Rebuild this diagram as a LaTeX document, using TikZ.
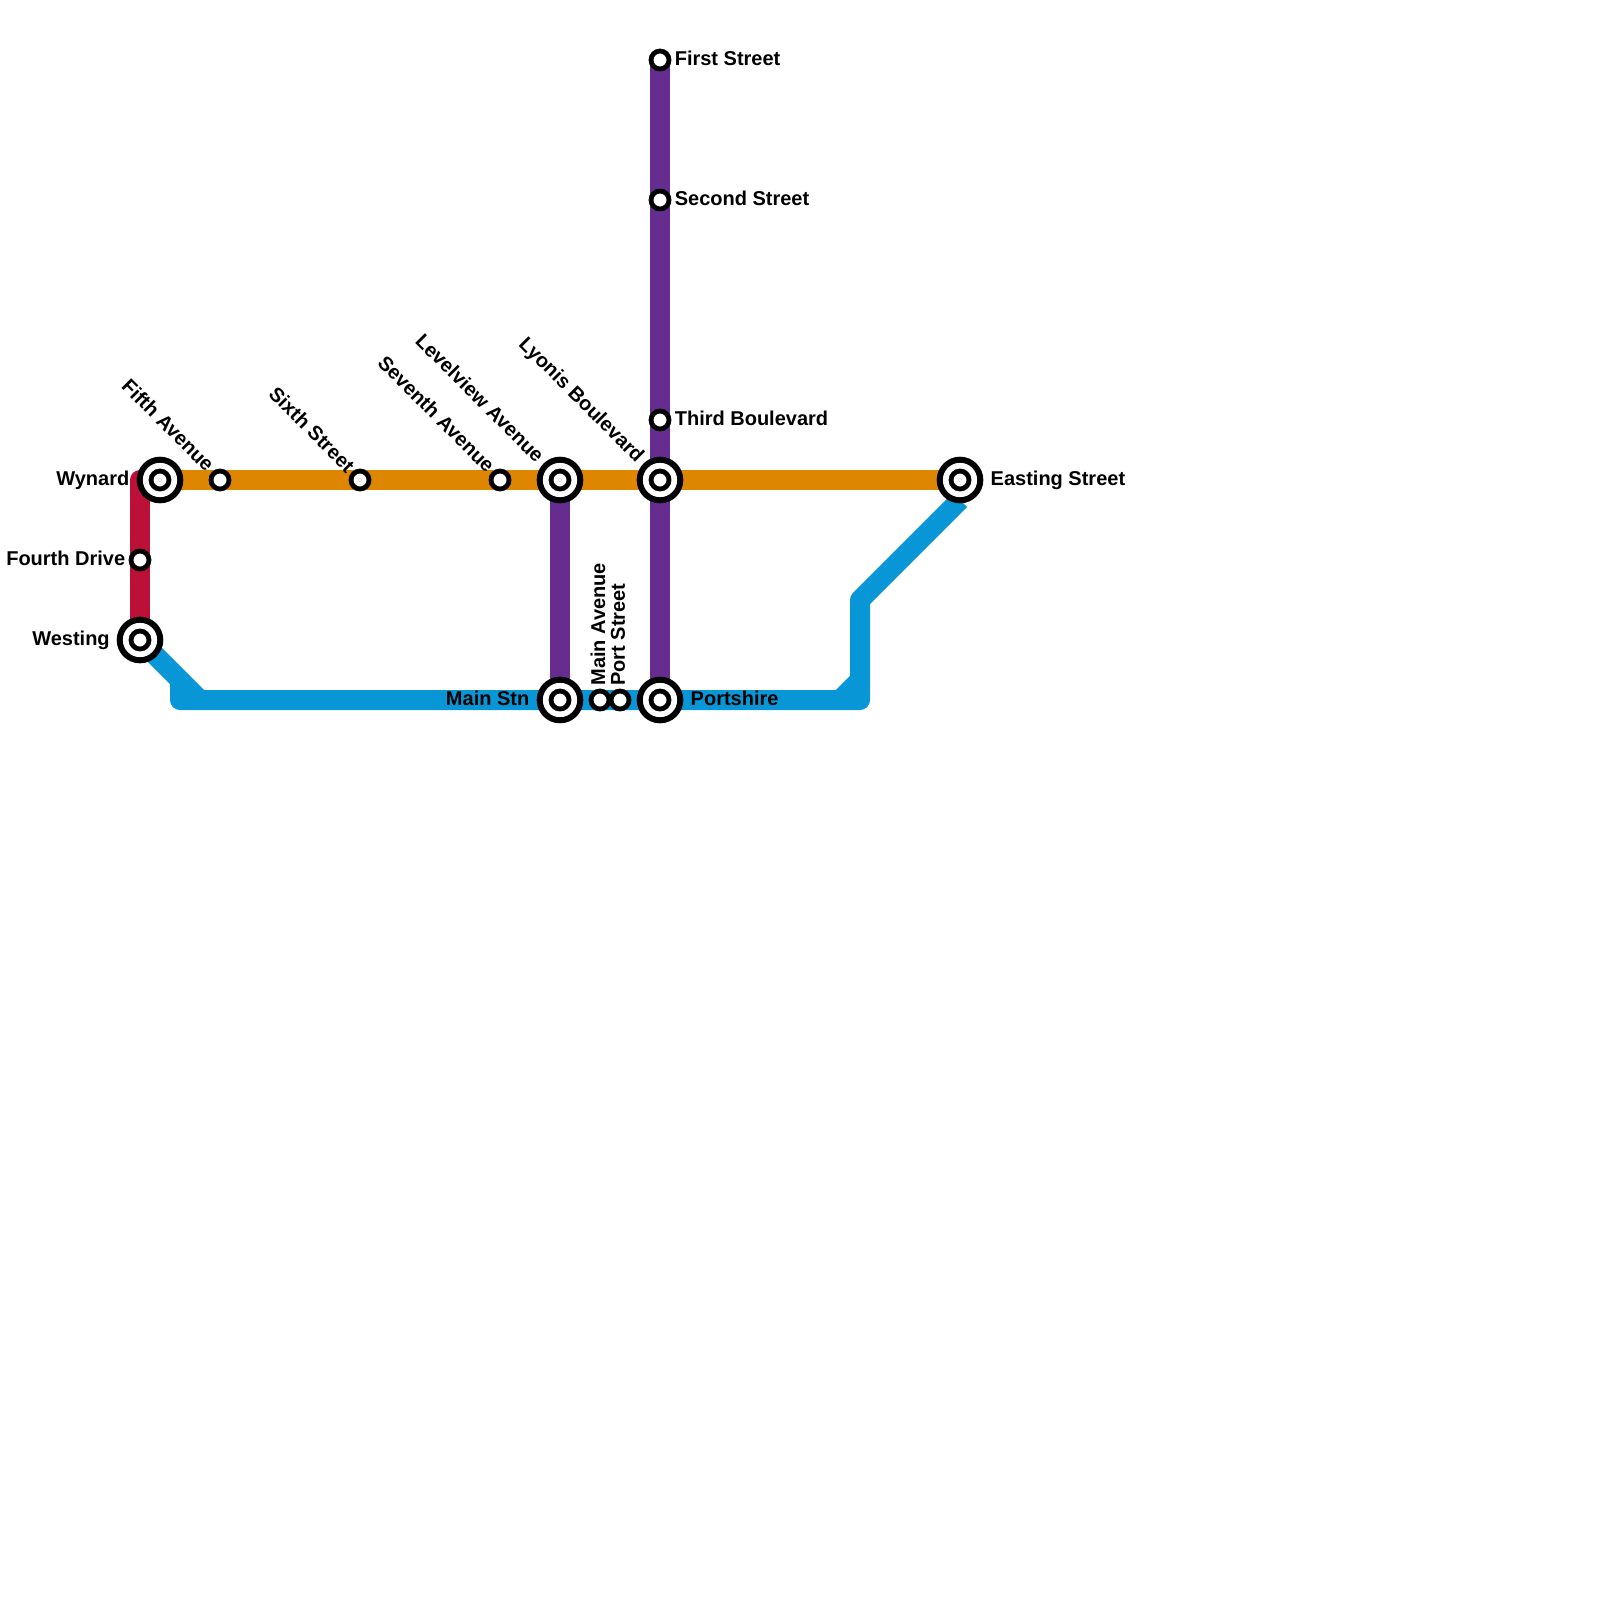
\documentclass[tikz,border=0pt]{standalone}
\usepackage{fontspec}
\setmainfont{Liberation Sans}
\usetikzlibrary{positioning}
\definecolor{redline}{HTML}{BD1038}
\definecolor{orangeline}{HTML}{DF8600}
\definecolor{purpleline}{HTML}{662C90}
\definecolor{blueline}{HTML}{0896D7}
\tikzset{
  stn/.style={circle,draw=black,fill=white,line width=2.4pt,minimum size=9pt,inner sep=0pt},
  hub/.style={circle,draw=black,fill=white,line width=3pt,minimum size=20.3pt,inner sep=0pt,
    path picture={\draw[line width=2.4pt] (path picture bounding box.center) circle (4.5pt);}},
  track/.style={line width=10pt,line join=round},
  stnlabel/.style={inner sep=0pt,font=\fontsize{10}{12}\bfseries\selectfont}
}
\begin{document}
\begin{tikzpicture}[x=0.5pt,y=-0.5pt]
\useasboundingbox (0,0) rectangle (1600,1600);
% bends
\coordinate (redbend) at (140,480);
\coordinate (bluea) at (180,680);
\coordinate (blueb) at (200,700);
\coordinate (bluec) at (180,700);
\coordinate (blued) at (860,700);
\coordinate (bluee) at (860,600);
\coordinate (bluef) at (960,500);
\coordinate (blueg) at (840,700);
\coordinate (blueh) at (860,680);
\coordinate (wynardc) at (160,480);
\coordinate (westingc) at (140,640);
\coordinate (levelc) at (560,480);
\coordinate (mainc) at (560,700);
\coordinate (firstc) at (660,60);
\coordinate (portc) at (660,700);
\coordinate (eastc) at (960,480);
% lines
\draw[track,blueline] (westingc) -- (blueb);
\draw[track,blueline] (bluea) -- (bluec) -- (blued) -- (bluee) -- (bluef);
\draw[track,blueline] (blueg) -- (blueh);
\draw[track,redline] (wynardc) -- (redbend) -- (westingc);
\draw[track,purpleline] (firstc) -- (portc);
\draw[track,purpleline] (levelc) -- (mainc);
\draw[track,orangeline] (wynardc) -- (eastc);
% stations
\node[hub] (wynard) at (wynardc) {};
\node[hub] (westing) at (westingc) {};
\node[hub] (level) at (levelc) {};
\node[hub] (lyonis) at (660,480) {};
\node[hub] (easting) at (eastc) {};
\node[hub] (mainstn) at (mainc) {};
\node[hub] (portshire) at (portc) {};
\node[stn] (fourth) at (140,560) {};
\node[stn] (fifth) at (220,480) {};
\node[stn] (sixth) at (360,480) {};
\node[stn] (seventh) at (500,480) {};
\node[stn] (mainave) at (600,700) {};
\node[stn] (portst) at (620,700) {};
\node[stn] (first) at (firstc) {};
\node[stn] (second) at (660,200) {};
\node[stn] (third) at (660,420) {};
% labels
\node[stnlabel,left=3.5pt of wynard] (wynardl) {Wynard};
\node[stnlabel,left=1.5pt of fourth,yshift=1pt] (fourthl) {Fourth Drive};
\node[stnlabel,left=3.3pt of westing] (westingl) {Westing};
\node[stnlabel,left=3.5pt of mainstn,yshift=1pt] (mainstnl) {Main Stn};
\node[stnlabel,right=3.5pt of portshire,yshift=1pt] (portshirel) {Portshire};
\node[stnlabel,right=3.5pt of easting] (eastingl) {Easting Street};
\node[stnlabel,right=1.5pt of first,yshift=1pt] (firstl) {First Street};
\node[stnlabel,right=1.5pt of second,yshift=1pt] (secondl) {Second Street};
\node[stnlabel,right=1.5pt of third,yshift=1pt] (thirdl) {Third Boulevard};
\node[stnlabel,rotate=-45,anchor=east] (fifthl) at (211,468) {Fifth Avenue};
\node[stnlabel,rotate=-45,anchor=east] (sixthl) at (351.5,469) {Sixth Street};
\node[stnlabel,rotate=-45,anchor=east] (seventhl) at (491.5,469) {Seventh Avenue};
\node[stnlabel,rotate=-45,anchor=east] (levell) at (541,459) {Levelview Avenue};
\node[stnlabel,rotate=-45,anchor=east] (lyonisl) at (640,460) {Lyonis Boulevard};
\node[stnlabel,rotate=90,anchor=west] (mainavel) at (598,686) {Main Avenue};
\node[stnlabel,rotate=90,anchor=west] (portstl) at (618,686) {Port Street};
\end{tikzpicture}
\end{document}
